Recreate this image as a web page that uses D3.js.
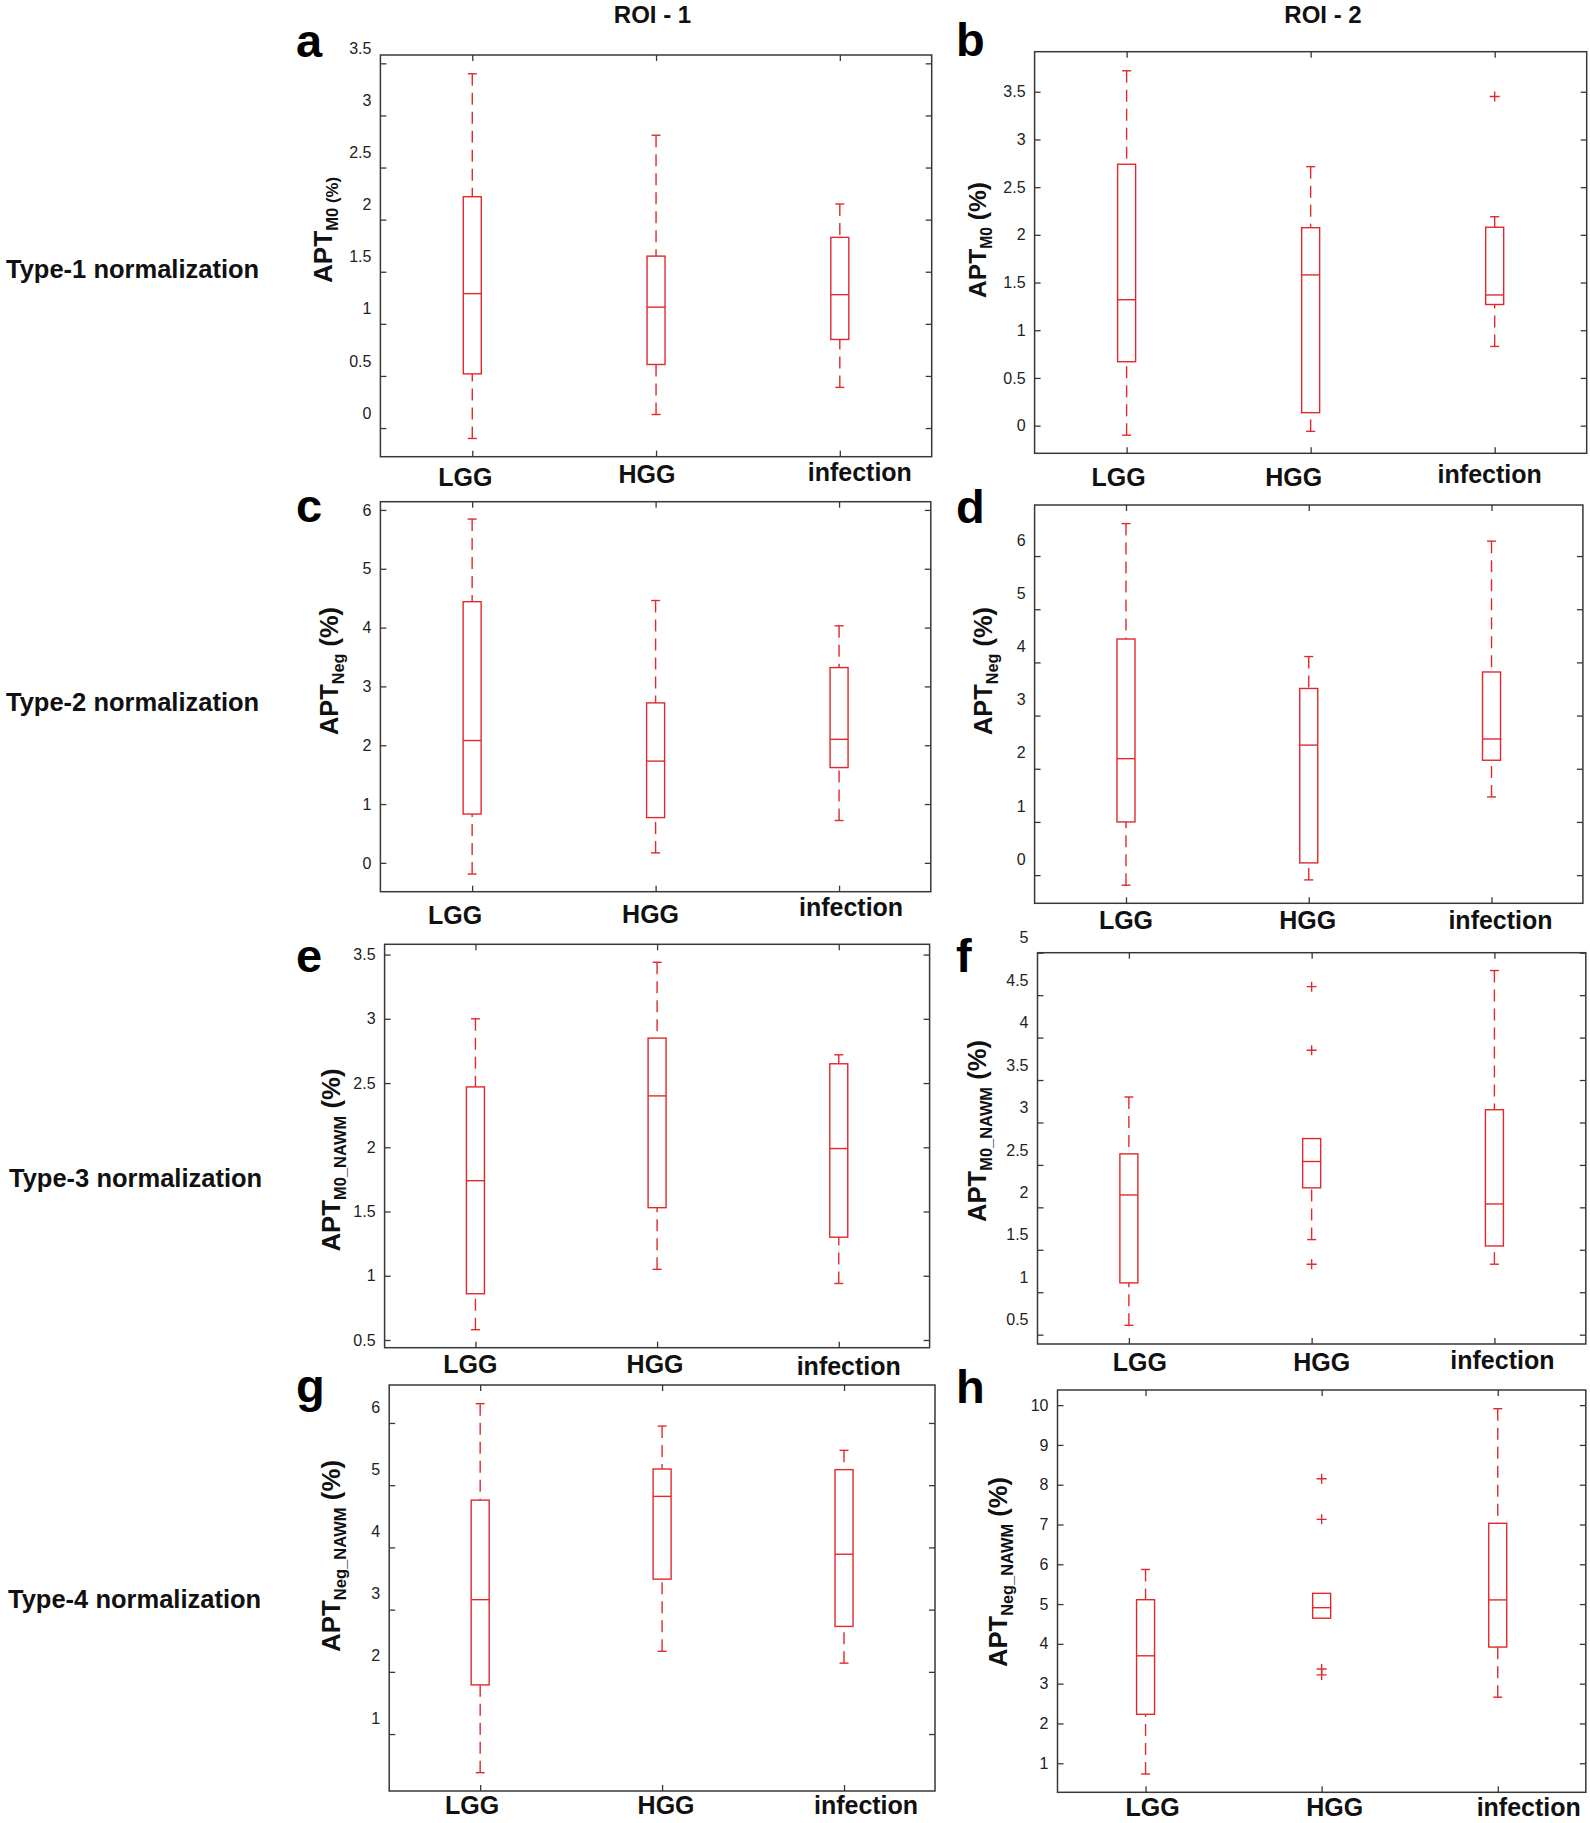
<!DOCTYPE html>
<html><head><meta charset="utf-8">
<script src="https://cdn.jsdelivr.net/npm/d3@7"></script>
<style>body{margin:0;background:#fff}svg{display:block}</style>
</head><body>
<script>
// ---------------- DATA ----------------
const categories = ["LGG", "HGG", "infection"];
const panelIds = ["a", "b", "c", "d", "e", "f", "g", "h"];
const columnTitles = ["ROI - 1", "ROI - 2"];
const rowTitles = ["Type-1 normalization", "Type-2 normalization", "Type-3 normalization", "Type-4 normalization"];
const yLabelMain = "APT";
const yLabelSubs = ["M0", "M0", "Neg", "Neg", "M0_NAWM", "M0_NAWM", "Neg_NAWM", "Neg_NAWM"];

// tick values per panel
const ticksA = [0, 0.5, 1, 1.5, 2, 2.5, 3, 3.5];
const ticksB = [0, 0.5, 1, 1.5, 2, 2.5, 3, 3.5];
const ticksC = [0, 1, 2, 3, 4, 5, 6];
const ticksD = [0, 1, 2, 3, 4, 5, 6];
const ticksE = [0.5, 1, 1.5, 2, 2.5, 3, 3.5];
const ticksF = [0.5, 1, 1.5, 2, 2.5, 3, 3.5, 4, 4.5, 5];
const ticksG = [1, 2, 3, 4, 5, 6];
const ticksH = [1, 2, 3, 4, 5, 6, 7, 8, 9, 10];

// box statistics per category: [lower whisker, Q1, median, Q3, upper whisker]
const statsA = [[-0.10, 0.52, 1.29, 2.22, 3.40], [0.13, 0.61, 1.16, 1.65, 2.81], [0.39, 0.85, 1.28, 1.83, 2.15]];
const statsB = [[-0.10, 0.67, 1.32, 2.74, 3.72], [-0.06, 0.136, 1.58, 2.075, 2.715], [0.83, 1.27, 1.37, 2.08, 2.19]];
const statsC = [[-0.19, 0.83, 2.08, 4.44, 5.845], [0.17, 0.77, 1.73, 2.72, 4.46], [0.72, 1.62, 2.10, 3.32, 4.03]];
const statsD = [[-0.19, 1.00, 2.19, 4.44, 6.61], [-0.09, 0.23, 2.445, 3.51, 4.11], [1.47, 2.16, 2.56, 3.82, 6.28]];
const statsE = [[0.58, 0.86, 1.74, 2.47, 3.00], [1.05, 1.53, 2.40, 2.85, 3.44], [0.94, 1.30, 1.99, 2.65, 2.72]];
const statsF = [[0.61, 1.11, 2.146, 2.63, 3.30], [1.62, 2.23, 2.54, 2.81, 2.81], [1.33, 1.545, 2.04, 3.15, 4.79]];
const statsG = [[0.38, 1.79, 3.16, 4.76, 6.31], [2.33, 3.49, 4.82, 5.26, 5.95], [2.14, 2.73, 3.89, 5.25, 5.56]];
const statsH = [[0.73, 2.23, 3.70, 5.11, 5.87], [4.645, 4.645, 4.91, 5.27, 5.27], [2.66, 3.92, 5.105, 7.03, 9.91]];

// outliers per category
const outliersA = [[], [], []];
const outliersB = [[], [], [3.45]];
const outliersC = [[], [], []];
const outliersD = [[], [], []];
const outliersE = [[], [], []];
const outliersF = [[], [4.60, 3.85, 1.33], []];
const outliersG = [[], [], []];
const outliersH = [[], [8.15, 7.13, 3.37, 3.22], []];

const allTicks = [ticksA, ticksB, ticksC, ticksD, ticksE, ticksF, ticksG, ticksH];
const allStats = [statsA, statsB, statsC, statsD, statsE, statsF, statsG, statsH];
const allOutliers = [outliersA, outliersB, outliersC, outliersD, outliersE, outliersF, outliersG, outliersH];

// ---------------- LAYOUT (pixels) ----------------
const layout = [
  {x: [380.4, 931.7], y: [55, 456.7], dom: [-0.275, 3.58], tdy: -15, sub: true,
   lx: [-7, -9, 20], ly: [486, 483, 481], yl: [332, 230, 106], letter: [296, 56.5]},
  {x: [1034.6, 1586.7], y: [51.7, 453.3], dom: [-0.29, 3.92], tdy: 0,
   lx: [-8, -17, -5], ly: [486, 486, 483], yl: [986, 240, 116], letter: [956, 55.5]},
  {x: [380.4, 930.8], y: [501.7, 891.7], dom: [-0.49, 6.14], tdy: 0,
   lx: [-17, -5, 12], ly: [924, 923, 916], yl: [338, 671, 128], letter: [296, 522]},
  {x: [1034.6, 1582.9], y: [505, 903.3], dom: [-0.53, 6.96], tdy: -16,
   lx: [0, -1, 9], ly: [928.5, 928.5, 928.5], yl: [992, 671, 128], letter: [956, 523]},
  {x: [384.6, 929.6], y: [944.3, 1347.7], dom: [0.44, 3.58], tdy: 0,
   lx: [-5, -2, 10], ly: [1372.5, 1372.5, 1374.5], yl: [340, 1160, 183], letter: [296, 971.7]},
  {x: [1037.5, 1585.8], y: [952.7, 1344], dom: [0.39, 5.0], tdy: -15,
   lx: [11, 10, 8], ly: [1371, 1371, 1369], yl: [986, 1131, 182], letter: [956, 971.7]},
  {x: [389.2, 935], y: [1385, 1791], dom: [0.085, 6.61], tdy: -16,
   lx: [-8, 4, 22], ly: [1814, 1814, 1814], yl: [340, 1556, 192], letter: [296, 1402]},
  {x: [1057.5, 1585.8], y: [1390, 1792.3], dom: [0.27, 10.38], tdy: 0,
   lx: [7, 13, 31], ly: [1816, 1816, 1816], yl: [1007, 1572, 190], letter: [956, 1403]}
];
const colTitlePos = [[652.5, 23], [1323, 23]];
const rowTitlePos = [[6, 278], [6, 711], [9, 1187], [8, 1608]];

const RED = "#e3282c";
const FRAME = "#383838";
const FONT = "'Liberation Sans', Arial, Helvetica, sans-serif";
const BOXW = 18, CAPW = 9, PLUS = 5;

// ---------------- DRAW ----------------
const svg = d3.select("body").append("svg")
  .attr("width", 1590).attr("height", 1823)
  .style("font-family", FONT);

svg.selectAll("text.coltitle").data(columnTitles).join("text")
  .attr("class", "coltitle")
  .attr("x", (d, i) => colTitlePos[i][0]).attr("y", (d, i) => colTitlePos[i][1])
  .attr("text-anchor", "middle").attr("font-size", 24).attr("font-weight", "bold")
  .attr("fill", "#111").text(d => d);

svg.selectAll("text.rowtitle").data(rowTitles).join("text")
  .attr("class", "rowtitle")
  .attr("x", (d, i) => rowTitlePos[i][0]).attr("y", (d, i) => rowTitlePos[i][1])
  .attr("font-size", 25.5).attr("font-weight", "bold")
  .attr("fill", "#111").text(d => d);

panelIds.forEach((id, p) => {
  const L = layout[p];
  const g = svg.append("g").attr("class", "panel-" + id);
  const x = d3.scaleLinear().domain([0.5, 3.5]).range(L.x);
  const y = d3.scaleLinear().domain(L.dom).range([L.y[1], L.y[0]]);

  // axes with inward ticks
  const left = g.append("g").attr("transform", `translate(${L.x[0]},0)`)
    .call(d3.axisLeft(y).tickValues(allTicks[p]).tickSizeInner(-6).tickSizeOuter(0)
      .tickPadding(9).tickFormat(d => String(d)));
  left.select(".domain").remove();
  left.selectAll(".tick line").attr("stroke", FRAME).attr("stroke-width", 1.3);
  left.selectAll(".tick text").attr("font-size", 16).attr("fill", "#222")
    .attr("font-family", FONT).attr("dy", (0.32 * 16 + L.tdy) + "px");

  const right = g.append("g").attr("transform", `translate(${L.x[1]},0)`)
    .call(d3.axisRight(y).tickValues(allTicks[p]).tickSizeInner(-6).tickSizeOuter(0).tickFormat(""));
  right.select(".domain").remove();
  right.selectAll(".tick line").attr("stroke", FRAME).attr("stroke-width", 1.3);

  const top = g.append("g").attr("transform", `translate(0,${L.y[0]})`)
    .call(d3.axisTop(x).tickValues([1, 2, 3]).tickSizeInner(-6).tickSizeOuter(0).tickFormat(""));
  top.select(".domain").remove();
  top.selectAll(".tick line").attr("stroke", FRAME).attr("stroke-width", 1.3);

  const bottom = g.append("g").attr("transform", `translate(0,${L.y[1]})`)
    .call(d3.axisBottom(x).tickValues([1, 2, 3]).tickSizeInner(-6).tickSizeOuter(0).tickFormat(""));
  bottom.select(".domain").remove();
  bottom.selectAll(".tick line").attr("stroke", FRAME).attr("stroke-width", 1.3);

  g.append("rect")
    .attr("x", x(0.5)).attr("y", y(L.dom[1]))
    .attr("width", x(3.5) - x(0.5)).attr("height", y(L.dom[0]) - y(L.dom[1]))
    .attr("fill", "none").attr("stroke", FRAME).attr("stroke-width", 1.5);

  // category labels
  g.selectAll("text.cat").data(categories).join("text")
    .attr("class", "cat")
    .attr("x", (d, i) => x(i + 1) + L.lx[i]).attr("y", (d, i) => L.ly[i])
    .attr("text-anchor", "middle").attr("font-size", 25).attr("font-weight", "bold")
    .attr("fill", "#111").text(d => d);

  // boxes
  const stats = allStats[p];
  const bg = g.append("g").attr("fill", "none").attr("stroke", RED).attr("stroke-width", 1.4);
  stats.forEach((s, i) => {
    const cx = x(i + 1);
    const [lo, q1, med, q3, hi] = s;
    if (hi > q3) {
      bg.append("line").attr("x1", cx).attr("x2", cx).attr("y1", y(hi)).attr("y2", y(q3))
        .attr("stroke-dasharray", "12,7");
      bg.append("line").attr("x1", cx - CAPW / 2).attr("x2", cx + CAPW / 2).attr("y1", y(hi)).attr("y2", y(hi));
    }
    if (lo < q1) {
      bg.append("line").attr("x1", cx).attr("x2", cx).attr("y1", y(lo)).attr("y2", y(q1))
        .attr("stroke-dasharray", "12,7");
      bg.append("line").attr("x1", cx - CAPW / 2).attr("x2", cx + CAPW / 2).attr("y1", y(lo)).attr("y2", y(lo));
    }
    bg.append("rect").attr("x", cx - BOXW / 2).attr("y", y(q3))
      .attr("width", BOXW).attr("height", y(q1) - y(q3));
    bg.append("line").attr("x1", cx - BOXW / 2).attr("x2", cx + BOXW / 2).attr("y1", y(med)).attr("y2", y(med));
    allOutliers[p][i].forEach(v => {
      bg.append("path").attr("d", `M${cx - PLUS},${y(v)}H${cx + PLUS}M${cx},${y(v) - PLUS}V${y(v) + PLUS}`);
    });
  });

  // y label
  const yl = g.append("text").attr("font-weight", "bold").attr("fill", "#111")
    .attr("text-anchor", "middle").attr("font-size", 26);
  yl.append("tspan").text(yLabelMain);
  const subText = L.sub ? yLabelSubs[p] + " (%)" : yLabelSubs[p];
  yl.append("tspan").attr("font-size", "0.64em").attr("dy", "0.35em").text(subText);
  if (!L.sub) {
    yl.append("tspan").attr("dy", (-0.35 * 0.64) + "em").text(" (%)");
  }
  const w = yl.node().getComputedTextLength();
  const fs = 26 * L.yl[2] / w;
  yl.attr("font-size", fs)
    .attr("transform", `translate(${L.yl[0]},${L.yl[1]}) rotate(-90)`);

  // panel letter
  g.append("text").attr("x", L.letter[0]).attr("y", L.letter[1])
    .attr("font-size", 47).attr("font-weight", "bold").attr("fill", "#000").text(id);
});
</script>
</body></html>
